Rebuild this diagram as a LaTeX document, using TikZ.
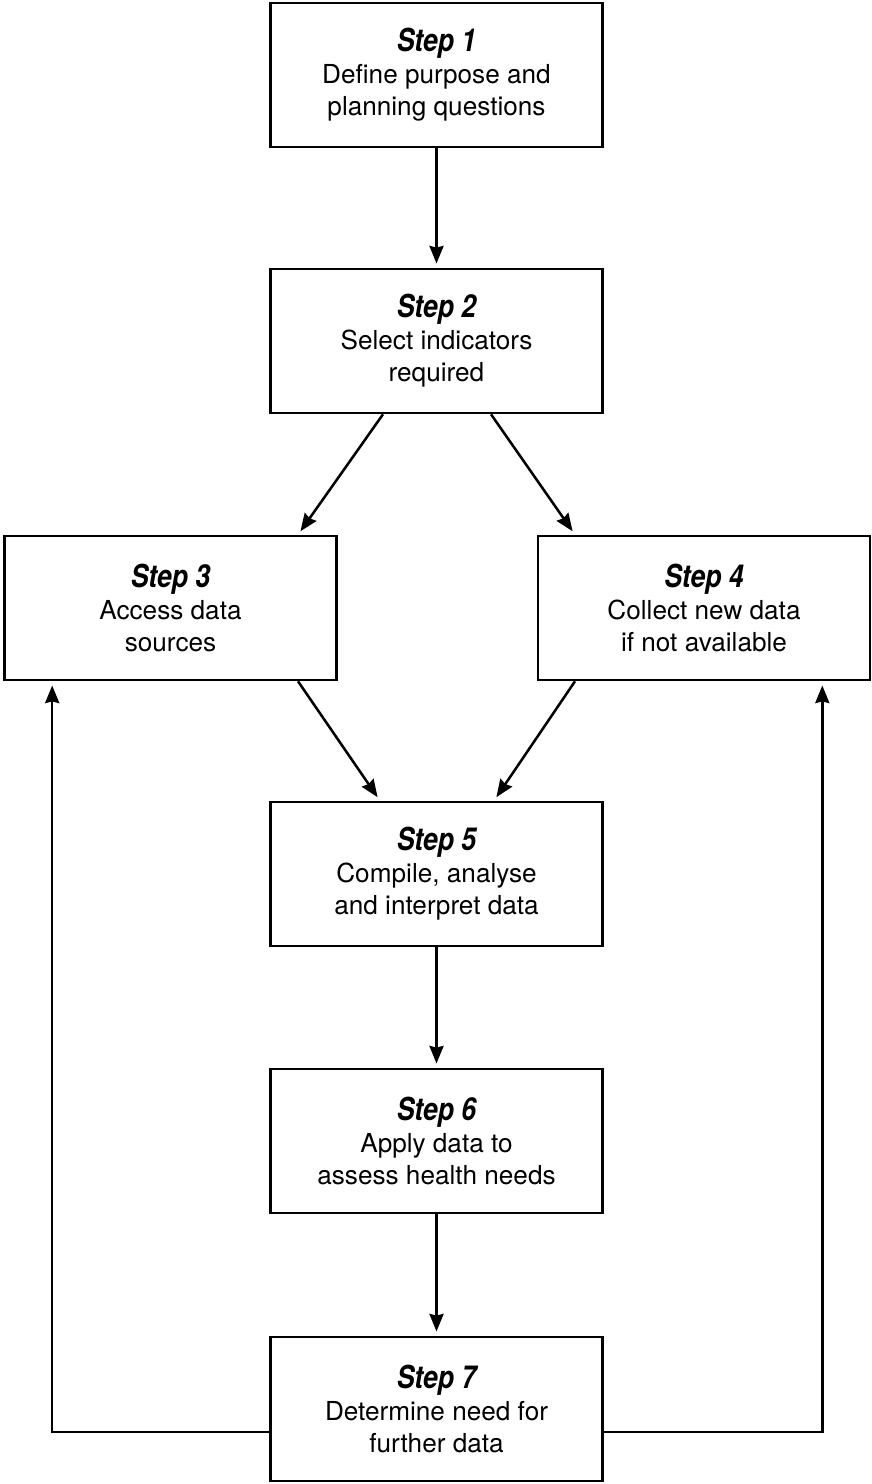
\documentclass[tikz,border=0pt]{standalone}
\usepackage{fontspec}
\setmainfont{TeX Gyre Heros}
\newfontfamily\stepfont[FakeStretch=0.84]{TeX Gyre Heros}
\usepackage{tikz}
\usetikzlibrary{arrows.meta,calc}

\begin{document}
\begin{tikzpicture}[
    x=0.025cm, y=-0.025cm,
    font=\fontsize{18.6}{22.8}\selectfont,
    >={Stealth[length=12.5pt,width=10pt,inset=1.2pt]},
    stepbox/.style={draw, line width=1.8pt, align=center,
      minimum width=8.3cm, minimum height=3.6cm, inner sep=0pt},
    link/.style={->, line width=1.8pt, shorten >=3pt},
  ]
  \useasboundingbox (0,0) rectangle (871,1484);
  \newcommand\steptitle[1]{{\stepfont\fontsize{22.5}{22.8}\selectfont\bfseries\itshape #1}}

  %% ---- the seven steps --------------------------------------------------
  \node[stepbox] (s1) at (436.5,75)
    {\steptitle{Step 1}\\ Define purpose and\\ planning questions};
  \node[stepbox] (s2) at (436.5,341)
    {\steptitle{Step 2}\\ Select indicators\\ required};
  \node[stepbox] (s3) at (170.5,608)
    {\steptitle{Step 3}\\ Access data\\ sources};
  \node[stepbox] (s4) at (704,608)
    {\steptitle{Step 4}\\ Collect new data\\ if not available};
  \node[stepbox] (s5) at (436.5,874)
    {\steptitle{Step 5}\\ Compile, analyse\\ and interpret data};
  \node[stepbox] (s6) at (436.5,1141)
    {\steptitle{Step 6}\\ Apply data to\\ assess health needs};
  \node[stepbox] (s7) at (436.5,1409)
    {\steptitle{Step 7}\\ Determine need for\\ further data};

  %% ---- main flow ----------------------------------------------------------
  \draw[link] (s1) -- (s2);
  \draw[link] ($(s2.south)+(-53.5,0)$) -- ($(s3.north)+(127.5,0)$);
  \draw[link] ($(s2.south)+(54.5,0)$) -- ($(s4.north)+(-129,0)$);
  \draw[link] ($(s3.south)+(127.5,0)$) -- ($(s5.north)+(-56.5,0)$);
  \draw[link] ($(s4.south)+(-129,0)$) -- ($(s5.north)+(57.5,0)$);
  \draw[link] (s5) -- (s6);
  \draw[link] (s6) -- (s7);

  %% ---- feedback back to data gathering ------------------------------------
  \draw[link] ($(s7.west)+(0,23)$) -| ($(s3.south west)+(49,0)$);
  \draw[link] ($(s7.east)+(0,23)$) -| ($(s4.south east)+(-49,0)$);
\end{tikzpicture}
\end{document}
